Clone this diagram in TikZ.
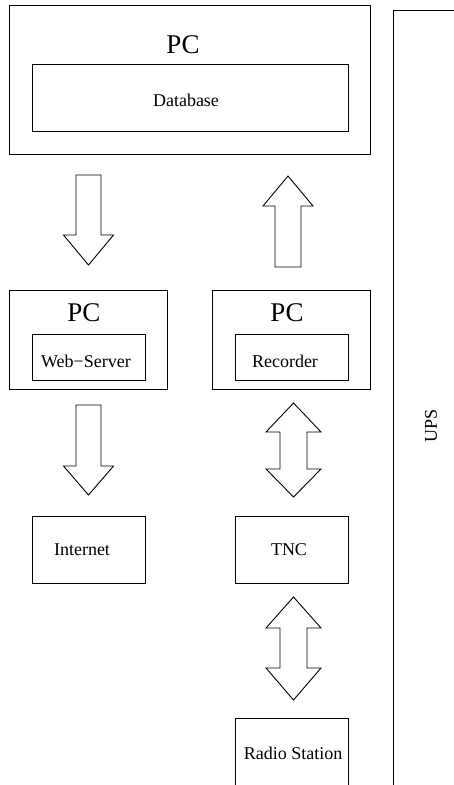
\documentclass[tikz,border=0pt]{standalone}
\usepackage{fontspec}
\setmainfont{Liberation Serif}
\begin{document}
\begin{tikzpicture}[x=1pt,y=-1pt,
  box/.style={draw,line width=0.9pt,inner sep=0pt,anchor=center},
  big/.style={font=\fontsize{27}{30}\selectfont,inner sep=0pt},
  small/.style={font=\fontsize{18}{20}\selectfont,inner sep=0pt},
  blockarrow/.style={draw,line width=0.9pt,fill=white,line join=miter}]
\useasboundingbox (0,0) rectangle (454,785);
\clip (0,0) rectangle (454,785);
% top PC
\node[box,minimum width=361pt,minimum height=149pt] (pcdb) at (189.5,79.5) {};
\node[big] (pcdbt) at (183,45) {PC};
\node[box,minimum width=316pt,minimum height=67pt] (db) at (190,97.5) {};
\node[small] (dbt) at (186,100) {Database};
% web PC
\node[box,minimum width=158pt,minimum height=99pt] (pcweb) at (88,339.5) {};
\node[big] (pcwebt) at (84,313) {PC};
\node[box,minimum width=113pt,minimum height=46pt] (web) at (88.5,357) {};
\node[small] (webt) at (86,361) {Web\char"2212 Server};
% recorder PC
\node[box,minimum width=158pt,minimum height=99pt] (pcrec) at (291,339.5) {};
\node[big] (pcrect) at (287,313) {PC};
\node[box,minimum width=113pt,minimum height=46pt] (rec) at (291.5,357) {};
\node[small] (rect) at (285,361) {Recorder};
% Internet, TNC, Radio
\node[box,minimum width=113pt,minimum height=67pt] (inet) at (88.5,549.5) {};
\node[small] (inett) at (82,550) {Internet};
\node[box,minimum width=113pt,minimum height=67pt] (tnc) at (291.5,549.5) {};
\node[small] (tnct) at (289,550) {TNC};
\node[box,minimum width=113pt,minimum height=100pt] (radio) at (291.5,768) {};
\node[small] (radiot) at (293,753) {Radio Station};
% UPS
\node[box,minimum width=100pt,minimum height=800pt] (ups) at (443,410) {};
\node[small,rotate=90] (upst) at (431,426) {UPS};
% block arrows
\draw[blockarrow] (76,175) -- (101,175) -- (101,235) -- (113.5,235) -- (88.5,265) -- (63.5,235) -- (76,235) -- cycle;
\draw[blockarrow] (275,267) -- (301,267) -- (301,206) -- (313,206) -- (288,176) -- (263,206) -- (275,206) -- cycle;
\draw[blockarrow] (76,405) -- (101,405) -- (101,466) -- (113.5,466) -- (88.5,495) -- (63.5,466) -- (76,466) -- cycle;
\draw[blockarrow] (293.5,403) -- (321,432) -- (307,432) -- (307,469) -- (321,469) -- (293.5,497) -- (266,469) -- (280,469) -- (280,432) -- (266,432) -- cycle;
\draw[blockarrow] (293.5,597) -- (321,628) -- (307,628) -- (307,668) -- (321,668) -- (293.5,700) -- (266,668) -- (280,668) -- (280,628) -- (266,628) -- cycle;
\end{tikzpicture}
\end{document}
